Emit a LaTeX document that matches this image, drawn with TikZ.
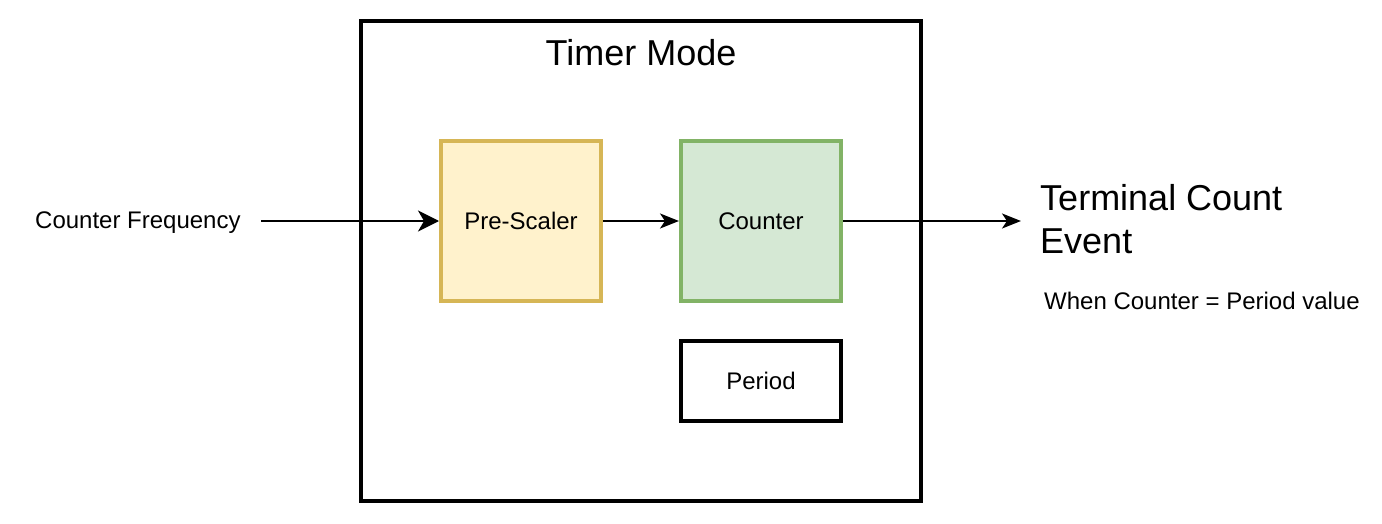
\documentclass[tikz,border=0pt]{standalone}
\usepackage{fontspec}
\setmainfont{Liberation Sans}
\usetikzlibrary{arrows.meta}
\definecolor{ylfill}{HTML}{FFF2CC}
\definecolor{yldraw}{HTML}{D6B656}
\definecolor{grfill}{HTML}{D5E8D4}
\definecolor{grdraw}{HTML}{82B366}
\begin{document}
\begin{tikzpicture}[x=1pt,y=-1pt,
  blockbox/.style={draw, line width=4pt, minimum width=160pt, minimum height=160pt, inner sep=0pt, outer sep=2pt, font=\fontsize{24}{29}\selectfont},
  lbl/.style={inner sep=0pt, font=\fontsize{24}{29}\selectfont},
  biglbl/.style={inner sep=0pt, font=\fontsize{36}{43}\selectfont},
  conn/.style={line width=2pt},
  bigtip/.style={-{Stealth[length=21pt,width=21pt,inset=6pt]}},
  smalltip/.style={-{Stealth[length=19pt,width=15pt,inset=5pt]}}
]
\useasboundingbox (0,0) rectangle (1382,524);
\node[draw, line width=4.5pt, minimum width=560pt, minimum height=480pt, inner sep=0pt, outer sep=0pt] (timer) at (641,261) {};
\node[biglbl, anchor=base] (title) at (641,66) {Timer Mode};
\node[blockbox, fill=ylfill, draw=yldraw] (pre) at (521,221) {Pre-Scaler};
\node[blockbox, fill=grfill, draw=grdraw] (cnt) at (761,221) {Counter};
\node[blockbox, minimum height=80pt] (per) at (761,381) {Period};
\node[lbl, anchor=base west] (freq) at (35,228) {Counter Frequency};
\coordinate (fstart) at (261,221);
\coordinate (tend) at (1021,221);
\node[biglbl, anchor=north west, align=left] (tce) at (1040,184.5) {Terminal Count\\Event};
\node[lbl, anchor=base west] (when) at (1044,309) {When Counter = Period value};
\draw[conn, bigtip] (fstart) -- (pre.west);
\draw[conn, smalltip] (pre.east) -- (cnt.west);
\draw[conn, smalltip] (cnt.east) -- (tend);
\end{tikzpicture}
\end{document}
